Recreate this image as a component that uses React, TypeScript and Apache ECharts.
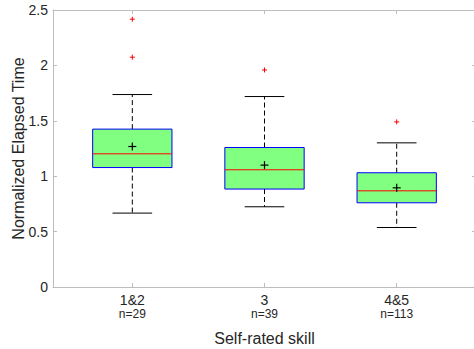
import React, { useEffect, useRef } from "react";
import * as echarts from "echarts";

// ---- Data ----
const categories = ["1&2", "3", "4&5"];
const counts = ["n=29", "n=39", "n=113"];
const positions = [1, 2, 3];
const whiskerLow = [0.667, 0.724, 0.537];
const q1 = [1.078, 0.884, 0.76];
const median = [1.202, 1.058, 0.868];
const q3 = [1.425, 1.259, 1.031];
const whiskerHigh = [1.737, 1.719, 1.301];
const means = [1.268, 1.1, 0.895];
const outlierX = [1, 1, 2, 3];
const outlierY = [2.417, 2.074, 1.959, 1.49];

const FONT = "'Liberation Sans', Arial, Helvetica, sans-serif";
const AXIS_COLOR = "#bdbdbd";
const TEXT_COLOR = "#262626";
const BOX_HALF = 0.3;
const CAP_HALF = 0.15;

export default function App() {
  const ref = useRef<HTMLDivElement>(null);

  useEffect(() => {
    if (!ref.current) return;
    const chart = echarts.init(ref.current, undefined, { renderer: "svg" });

    const boxData = positions.map((p, i) => [
      p,
      whiskerLow[i],
      q1[i],
      median[i],
      q3[i],
      whiskerHigh[i],
      means[i],
    ]);
    const outlierData = outlierX.map((x, i) => [x, outlierY[i]]);

    const tickCommon = {
      inside: true,
      length: 4,
      lineStyle: { color: AXIS_COLOR, width: 1 },
    };
    const lineCommon = { onZero: false, lineStyle: { color: AXIS_COLOR, width: 1 } };
    const labelAt = (arr: string[]) => (v: number) => {
      const i = positions.indexOf(v);
      return i < 0 ? "" : arr[i];
    };

    const option: any = {
      animation: false,
      backgroundColor: "#ffffff",
      textStyle: { fontFamily: FONT },
      grid: {
        left: 53,
        right: -2,
        top: 10,
        bottom: 62,
        containLabel: false,
        outerBoundsMode: "none",
      },
      xAxis: [
        {
          type: "value",
          position: "bottom",
          min: 0.4,
          max: 3.6,
          axisLine: lineCommon,
          axisTick: { ...tickCommon, customValues: positions },
          splitLine: { show: false },
          axisLabel: {
            customValues: positions,
            margin: 6,
            formatter: labelAt(categories),
            fontSize: 14,
            lineHeight: 14,
            color: TEXT_COLOR,
            fontFamily: FONT,
          },
          name: "Self-rated skill",
          nameLocation: "middle",
          nameGap: 43,
          nameTextStyle: { fontSize: 16, color: TEXT_COLOR, fontFamily: FONT },
        },
        {
          type: "value",
          position: "top",
          min: 0.4,
          max: 3.6,
          axisLine: lineCommon,
          axisTick: { ...tickCommon, customValues: positions },
          axisLabel: { show: false },
          splitLine: { show: false },
        },
        {
          type: "value",
          position: "bottom",
          min: 0.4,
          max: 3.6,
          axisLine: { show: false },
          axisTick: { show: false },
          splitLine: { show: false },
          axisLabel: {
            customValues: positions,
            margin: 21,
            formatter: labelAt(counts),
            fontSize: 12,
            lineHeight: 12,
            color: TEXT_COLOR,
            fontFamily: FONT,
          },
        },
      ],
      yAxis: [
        {
          type: "value",
          position: "left",
          min: 0,
          max: 2.5,
          interval: 0.5,
          axisLine: { ...lineCommon, show: true },
          axisTick: { ...tickCommon, show: true },
          splitLine: { show: false },
          axisLabel: { fontSize: 14, color: TEXT_COLOR, margin: 5, fontFamily: FONT },
          name: "Normalized Elapsed Time",
          nameLocation: "middle",
          nameGap: 26,
          nameMoveOverlap: false,
          nameTextStyle: { fontSize: 16, lineHeight: 18, color: TEXT_COLOR, fontFamily: FONT },
        },
        {
          type: "value",
          position: "right",
          min: 0,
          max: 2.5,
          interval: 0.5,
          axisLine: { ...lineCommon, show: true },
          axisTick: { ...tickCommon, show: true },
          axisLabel: { show: false },
          splitLine: { show: false },
        },
      ],
      series: [
        {
          type: "custom",
          xAxisIndex: 0,
          yAxisIndex: 0,
          data: boxData,
          encode: { x: 0, y: [1, 2, 3, 4, 5] },
          renderItem: (params: any, api: any) => {
            const x = api.value(0);
            const lo = api.value(1);
            const a = api.value(2);
            const m = api.value(3);
            const b = api.value(4);
            const hi = api.value(5);
            const mu = api.value(6);
            const [xc, yLo] = api.coord([x, lo]);
            const [, yA] = api.coord([x, a]);
            const [, yM] = api.coord([x, m]);
            const [, yB] = api.coord([x, b]);
            const [, yHi] = api.coord([x, hi]);
            const [, yMu] = api.coord([x, mu]);
            const [xl] = api.coord([x - BOX_HALF, a]);
            const [xr] = api.coord([x + BOX_HALF, a]);
            const [cl] = api.coord([x - CAP_HALF, a]);
            const [cr] = api.coord([x + CAP_HALF, a]);
            const blk = { stroke: "#000000", lineWidth: 1 };
            const dash = { stroke: "#000000", lineWidth: 1, lineDash: [5, 3] };
            const p = 4;
            return {
              type: "group",
              children: [
                { type: "line", shape: { x1: xc, y1: yB, x2: xc, y2: yHi }, style: dash },
                { type: "line", shape: { x1: xc, y1: yA, x2: xc, y2: yLo }, style: dash },
                { type: "line", shape: { x1: cl, y1: yHi, x2: cr, y2: yHi }, style: blk },
                { type: "line", shape: { x1: cl, y1: yLo, x2: cr, y2: yLo }, style: blk },
                {
                  type: "rect",
                  shape: { x: xl, y: yB, width: xr - xl, height: yA - yB },
                  style: { fill: "#80ff80", stroke: "#0000ff", lineWidth: 1 },
                },
                {
                  type: "line",
                  shape: { x1: xl, y1: yM, x2: xr, y2: yM },
                  style: { stroke: "#ff0000", lineWidth: 1 },
                },
                { type: "line", shape: { x1: xc - p, y1: yMu, x2: xc + p, y2: yMu }, style: { stroke: "#000", lineWidth: 1.2 } },
                { type: "line", shape: { x1: xc, y1: yMu - p, x2: xc, y2: yMu + p }, style: { stroke: "#000", lineWidth: 1.2 } },
              ],
            };
          },
        },
        {
          type: "custom",
          xAxisIndex: 0,
          yAxisIndex: 0,
          data: outlierData,
          encode: { x: 0, y: 1 },
          renderItem: (params: any, api: any) => {
            const [px, py] = api.coord([api.value(0), api.value(1)]);
            const s = 2.5;
            const st = { stroke: "#ff0000", lineWidth: 1 };
            return {
              type: "group",
              children: [
                { type: "line", shape: { x1: px - s, y1: py, x2: px + s, y2: py }, style: st },
                { type: "line", shape: { x1: px, y1: py - s, x2: px, y2: py + s }, style: st },
              ],
            };
          },
        },
      ],
    };

    chart.setOption(option);
    return () => chart.dispose();
  }, []);

  return (
    <div
      ref={ref}
      style={{ position: "fixed", left: 0, top: 0, width: 474, height: 349, background: "#fff" }}
    />
  );
}
